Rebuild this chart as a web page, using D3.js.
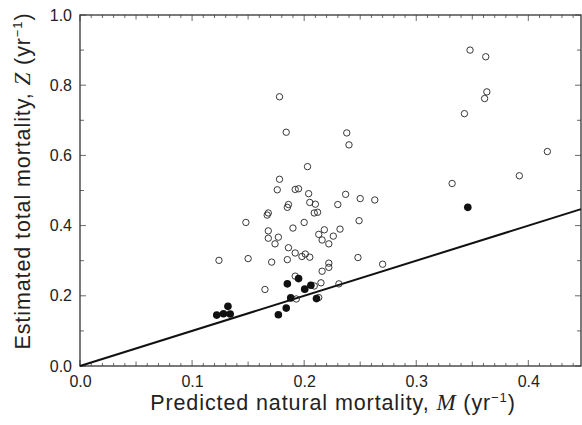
<!DOCTYPE html>
<html>
<head>
<meta charset="utf-8">
<script src="https://cdn.jsdelivr.net/npm/d3@7"></script>
<style>
  body { margin: 0; background: #fff; }
  svg text { font-family: "Liberation Sans", Arial, sans-serif; fill: #222; }
  .tick text { font-size: 16px; }
  .axis path, .axis line { stroke: #333; }
</style>
</head>
<body>
<div id="chart"></div>
<script>
// Open circles: estimated Z vs predicted M
const openM = [0.178, 0.184, 0.203, 0.178, 0.176, 0.192, 0.195, 0.204, 0.348, 0.362,
  0.363, 0.361, 0.343, 0.238, 0.240, 0.417, 0.392, 0.332, 0.237, 0.250,
  0.263, 0.205, 0.210, 0.186, 0.185, 0.168, 0.167, 0.209, 0.212, 0.148,
  0.200, 0.190, 0.213, 0.168, 0.168, 0.177, 0.174, 0.186, 0.192, 0.201,
  0.198, 0.205, 0.185, 0.124, 0.150, 0.171, 0.192, 0.165, 0.193, 0.230,
  0.249, 0.218, 0.216, 0.226, 0.222, 0.232, 0.248, 0.270, 0.222, 0.222,
  0.216, 0.215, 0.209, 0.231, 0.213];
const openZ = [0.767, 0.666, 0.568, 0.532, 0.502, 0.503, 0.505, 0.491, 0.900, 0.881,
  0.781, 0.762, 0.719, 0.664, 0.630, 0.611, 0.542, 0.520, 0.489, 0.477,
  0.473, 0.466, 0.461, 0.460, 0.452, 0.436, 0.430, 0.436, 0.438, 0.409,
  0.409, 0.393, 0.375, 0.385, 0.364, 0.367, 0.348, 0.337, 0.322, 0.319,
  0.312, 0.310, 0.303, 0.301, 0.306, 0.296, 0.256, 0.218, 0.191, 0.460,
  0.414, 0.388, 0.359, 0.370, 0.348, 0.390, 0.309, 0.290, 0.293, 0.281,
  0.270, 0.237, 0.228, 0.234, 0.195];

// Filled circles
const filledM = [0.122, 0.128, 0.132, 0.134, 0.177, 0.184, 0.185, 0.188, 0.195, 0.2005, 0.206, 0.211, 0.346];
const filledZ = [0.145, 0.149, 0.170, 0.148, 0.146, 0.165, 0.234, 0.194, 0.249, 0.219, 0.230, 0.192, 0.452];

// 1:1 reference line
const lineM = [0, 0.447];

const xTicks = [0, 0.1, 0.2, 0.3, 0.4];
const yTicks = [0, 0.2, 0.4, 0.6, 0.8, 1.0];

const W = 582, H = 425;
const margin = { top: 15, right: 1, bottom: 59, left: 80 };
const width = W - margin.left - margin.right;
const height = H - margin.top - margin.bottom;

const svg = d3.select("#chart").append("svg")
    .attr("width", W)
    .attr("height", H);

const g = svg.append("g")
    .attr("transform", `translate(${margin.left},${margin.top})`);

const x = d3.scaleLinear().domain([0, 0.447]).range([0, width]);
const y = d3.scaleLinear().domain([0, 1.0]).range([height, 0]);

// minor ticks (inward)
const xMinor = d3.range(0, 0.45, 0.01).map(v => +v.toFixed(2));
const yMinor = d3.range(0, 1.01, 0.1).map(v => +v.toFixed(1));

function minorX(sel, dir) {
  sel.selectAll("line").data(xMinor).enter().append("line")
    .attr("x1", d => x(d)).attr("x2", d => x(d))
    .attr("y1", 0)
    .attr("y2", d => dir * (Math.round(d * 100) % 10 === 0 ? 6 : (Math.round(d * 100) % 5 === 0 ? 4.5 : 3)))
    .attr("stroke", "#444").attr("stroke-width", 0.8);
}
function minorY(sel, dir) {
  sel.selectAll("line").data(yMinor).enter().append("line")
    .attr("y1", d => y(d)).attr("y2", d => y(d))
    .attr("x1", 0)
    .attr("x2", d => dir * (Math.round(d * 10) % 2 === 0 ? 6 : 4))
    .attr("stroke", "#444").attr("stroke-width", 0.8);
}

g.append("g").attr("transform", `translate(0,${height})`).call(minorX, -1);
g.append("g").call(minorX, 1);
g.append("g").call(minorY, 1);
g.append("g").attr("transform", `translate(${width},0)`).call(minorY, -1);

// labelled axes
g.append("g")
    .attr("class", "axis")
    .attr("transform", `translate(0,${height})`)
    .call(d3.axisBottom(x).tickValues(xTicks).tickFormat(d3.format(".1f")).tickSize(0).tickPadding(10))
    .call(a => a.select(".domain").remove());

g.append("g")
    .attr("class", "axis")
    .call(d3.axisLeft(y).tickValues(yTicks).tickFormat(d3.format(".1f")).tickSize(0).tickPadding(8))
    .call(a => a.select(".domain").remove());

// frame
g.append("rect")
    .attr("x", 0).attr("y", 0)
    .attr("width", width).attr("height", height)
    .attr("fill", "none")
    .attr("stroke", "#333")
    .attr("stroke-width", 1.3);

// Z = M line
g.append("line")
    .attr("x1", x(lineM[0])).attr("y1", y(lineM[0]))
    .attr("x2", x(lineM[1])).attr("y2", y(lineM[1]))
    .attr("stroke", "#111")
    .attr("stroke-width", 2);

// points
g.selectAll(".open")
    .data(openM.map((m, i) => [m, openZ[i]]))
    .enter().append("circle")
    .attr("class", "open")
    .attr("cx", d => x(d[0]))
    .attr("cy", d => y(d[1]))
    .attr("r", 3.2)
    .attr("fill", "none")
    .attr("stroke", "#222")
    .attr("stroke-width", 0.9);

g.selectAll(".filled")
    .data(filledM.map((m, i) => [m, filledZ[i]]))
    .enter().append("circle")
    .attr("class", "filled")
    .attr("cx", d => x(d[0]))
    .attr("cy", d => y(d[1]))
    .attr("r", 3.8)
    .attr("fill", "#111");

// axis titles
const serif = "'Liberation Serif', 'Times New Roman', serif";

const xt = svg.append("text")
    .attr("x", 333)
    .attr("y", 410)
    .attr("text-anchor", "middle")
    .style("font-size", "21.5px")
    .style("letter-spacing", "0.9px");
xt.append("tspan").text("Predicted natural mortality, ");
xt.append("tspan").text("M").style("font-family", serif).style("font-style", "italic").style("font-size", "23px");
xt.append("tspan").text(" (yr");
xt.append("tspan").text("\u22121").attr("dy", -8).style("font-size", "13px");
xt.append("tspan").text(")").attr("dy", 8);

const yt = svg.append("text")
    .attr("transform", `translate(30,181) rotate(-90)`)
    .attr("text-anchor", "middle")
    .style("font-size", "21.5px")
    .style("letter-spacing", "0.9px");
yt.append("tspan").text("Estimated total mortality, ");
yt.append("tspan").text("Z").style("font-family", serif).style("font-style", "italic").style("font-size", "23px");
yt.append("tspan").text(" (yr");
yt.append("tspan").text("\u22121").attr("dy", -8).style("font-size", "13px");
yt.append("tspan").text(")").attr("dy", 8);
</script>
</body>
</html>
